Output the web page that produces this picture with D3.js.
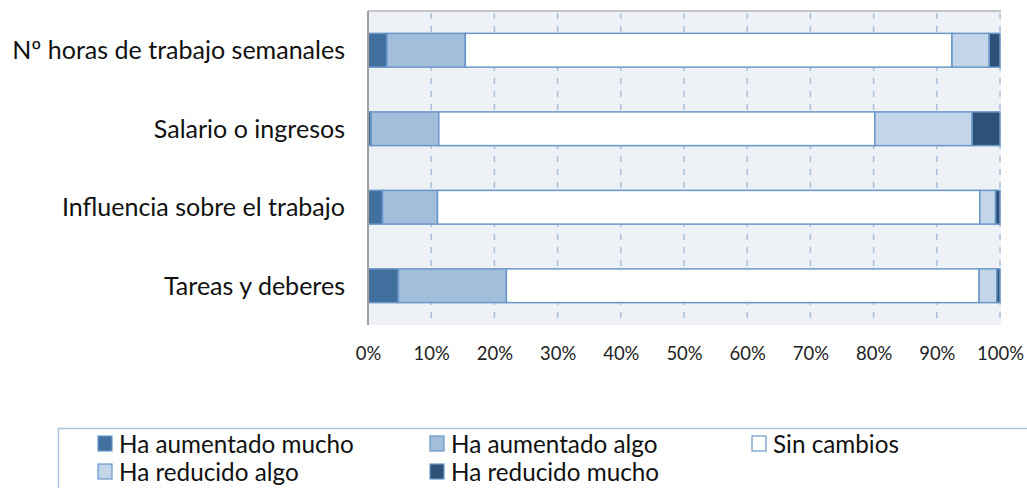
<!DOCTYPE html>
<html><head><meta charset="utf-8">
<script src="https://cdn.jsdelivr.net/npm/d3@7"></script>
<style>body{margin:0;background:#fff}svg{display:block}</style>
</head><body>
<svg id="c" width="1027" height="488"></svg>
<script>
const categories = ["Nº horas de trabajo semanales","Salario o ingresos","Influencia sobre el trabajo","Tareas y deberes"];
const seriesNames = ["Ha aumentado mucho","Ha aumentado algo","Sin cambios","Ha reducido algo","Ha reducido mucho"];
const haAumentadoMucho = [3.0, 0.5, 2.3, 4.8];
const haAumentadoAlgo  = [12.4, 10.7, 8.7, 17.1];
const sinCambios       = [77.0, 69.0, 85.8, 74.8];
const haReducidoAlgo   = [5.9, 15.4, 2.5, 2.8];
const haReducidoMucho  = [1.7, 4.4, 0.7, 0.5];
const tickValues = [0,10,20,30,40,50,60,70,80,90,100];
const colors = ["#41709f","#a3bedb","#ffffff","#c3d5e8","#2e5177"];

(function(){
const svg = d3.select("#c");
const font = "Lato, 'Open Sans', sans-serif";
const pL = 368, pR = 1000, pT = 11, pB = 325;
const x = d3.scaleLinear().domain([0,100]).range([pL,pR]);
const y = d3.scaleBand().domain(categories).range([pT, pB]).paddingInner(0.57).paddingOuter(0.285);

function fitSize(str, target){
  const t = svg.append("text").attr("font-family",font).attr("font-size",20).text(str);
  const w = t.node().getComputedTextLength(); t.remove();
  return 20*target/w;
}
const catSize = fitSize(categories[0], 333);
const tickSize = fitSize("100%", 47);
const legSize = fitSize(seriesNames[0], 235);

svg.append("rect").attr("x",pL).attr("y",pT).attr("width",pR-pL+1).attr("height",pB-pT).attr("fill","#eef2f6");
svg.append("line").attr("x1",pL).attr("x2",pR+1).attr("y1",pT).attr("y2",pT).attr("stroke","#b4b4b4").attr("stroke-width",1.5);
svg.append("g").selectAll("line").data(tickValues.slice(1)).join("line")
  .attr("x1",d=>x(d)).attr("x2",d=>x(d)).attr("y1",pT+2).attr("y2",pB)
  .attr("stroke","#a9c1dc").attr("stroke-width",1.5).attr("stroke-dasharray","6,7");

const stackData = categories.map((c,i)=>{
  const vals=[haAumentadoMucho[i],haAumentadoAlgo[i],sinCambios[i],haReducidoAlgo[i],haReducidoMucho[i]];
  const o={cat:c}; seriesNames.forEach((s,j)=>o[s]=vals[j]); return o;});
const stacked = d3.stack().keys(seriesNames)(stackData);

svg.append("g").selectAll("g").data(stacked).join("g")
  .attr("fill",(d,i)=>colors[i])
  .selectAll("rect").data(d=>d).join("rect")
  .attr("x",d=>x(d[0])).attr("width",d=>Math.max(0,x(d[1])-x(d[0])))
  .attr("y",d=>y(d.data.cat)).attr("height",y.bandwidth())
  .attr("stroke","#6a97c9").attr("stroke-width",1.5);

svg.append("line").attr("x1",pL).attr("x2",pL).attr("y1",pT).attr("y2",pB).attr("stroke","#a0a0a0").attr("stroke-width",2);

svg.append("g").selectAll("text").data(categories).join("text")
  .attr("x",345).attr("y",d=>y(d)+y.bandwidth()/2).attr("dy","0.35em")
  .attr("text-anchor","end").attr("font-family",font).attr("font-size",catSize).attr("fill","#111")
  .text(d=>d);

const xAxis = d3.axisBottom(x).tickValues(tickValues).tickFormat(d=>d+"%").tickSize(0).tickPadding(0);
const gx = svg.append("g").attr("transform",`translate(0,${pB+22})`).call(xAxis);
gx.select(".domain").remove();
gx.selectAll("text").attr("font-family",font).attr("font-size",tickSize).attr("fill","#222");

svg.append("rect").attr("x",58.5).attr("y",428.5).attr("width",1000).attr("height",100)
  .attr("fill","#fff").attr("stroke","#a7c2df").attr("stroke-width",1.5);
const legPos = [[98,436],[430,436],[752,436],[98,464],[430,464]];
const lg = svg.append("g").selectAll("g").data(seriesNames).join("g")
  .attr("transform",(d,i)=>`translate(${legPos[i][0]},${legPos[i][1]})`);
lg.append("rect").attr("x",0).attr("y",0).attr("width",14).attr("height",15)
  .attr("fill",(d,i)=>colors[i]).attr("stroke","#6a97c9").attr("stroke-width",1.2);
lg.append("text").attr("x",21).attr("y",8).attr("dy","0.35em").attr("font-family",font).attr("font-size",legSize).attr("fill","#111").text(d=>d);
})();
</script>
</body></html>
